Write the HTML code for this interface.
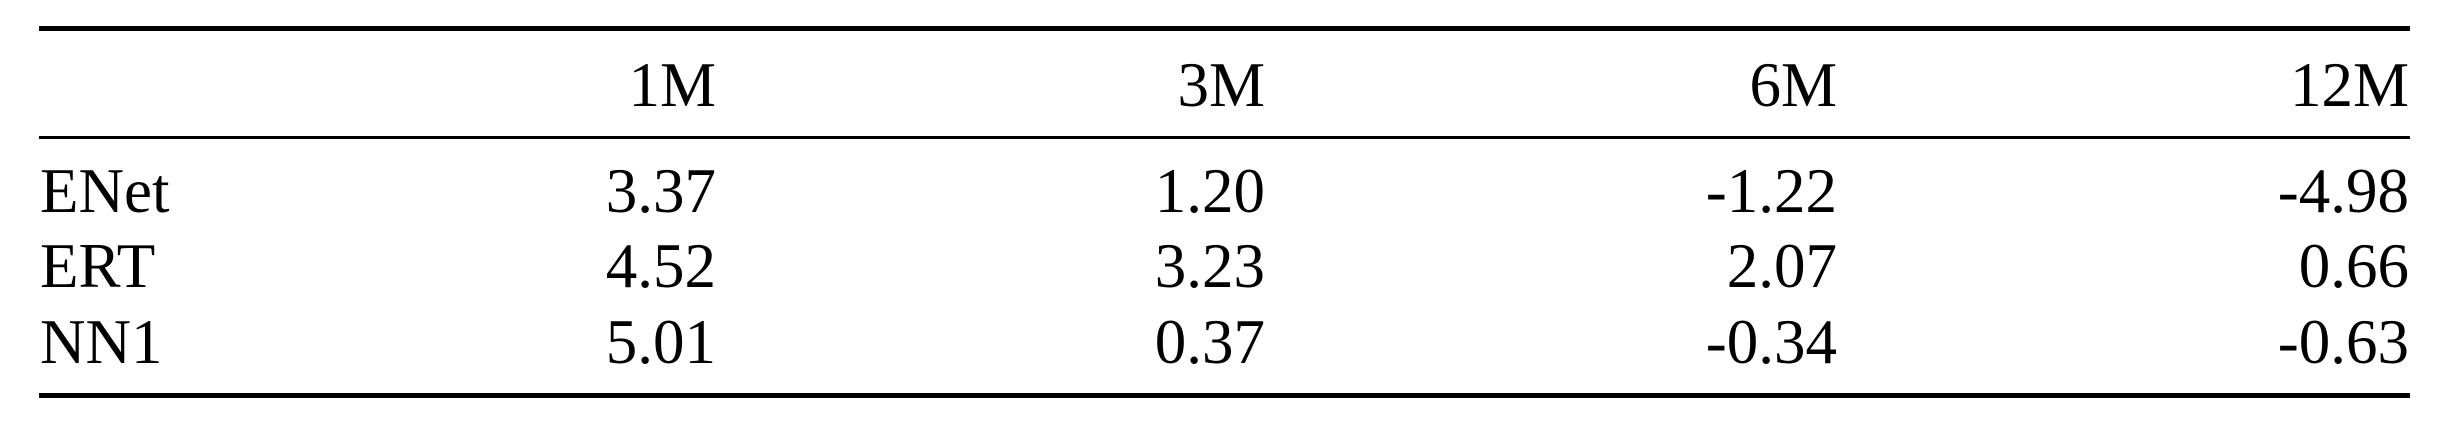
<!DOCTYPE html>
<html><head><meta charset="utf-8"><style>
html,body{margin:0;padding:0;background:#fff;}
#t{position:relative;width:2456px;height:421px;overflow:hidden;font-family:"Liberation Serif",serif;font-size:63px;color:#000;}
.r{position:absolute;left:39px;width:2371px;background:#000;}
.c{position:absolute;white-space:nowrap;line-height:1;}
</style></head><body>
<div id="t">
<div class="r" style="top:26px;height:5px"></div>
<div class="r" style="top:136px;height:3px"></div>
<div class="r" style="top:393px;height:5px"></div>
</div>
<script>
const cols=["1M","3M","6M","12M"];
const rows=["ENet","ERT","NN1"];
const vENet=["3.37","1.20","-1.22","-4.98"];
const vERT=["4.52","3.23","2.07","0.66"];
const vNN1=["5.01","0.37","-0.34","-0.63"];
const vals=[vENet,vERT,vNN1];
const t=document.getElementById('t');
const colRight=[716,1265,1837,2409];
const baseY=[215,290,366];
const headY=109;
function put(txt,right,base,left){
  const d=document.createElement('div');
  d.className='c';
  d.textContent=txt;
  d.style.top=(base-55)+'px';
  if(left!==undefined){d.style.left=left+'px';}else{d.style.right=(2456-right)+'px';}
  t.appendChild(d);return d;
}
cols.forEach((c,i)=>{
  const el=put(c,colRight[i],headY);
  
  
});
rows.forEach((r,j)=>{
  const el=put(r,0,baseY[j],40);
  
  
  vals[j].forEach((v,i)=>{
    const c=put(v,colRight[i],baseY[j]);
    
    
  });
});
</script>
</body></html>
